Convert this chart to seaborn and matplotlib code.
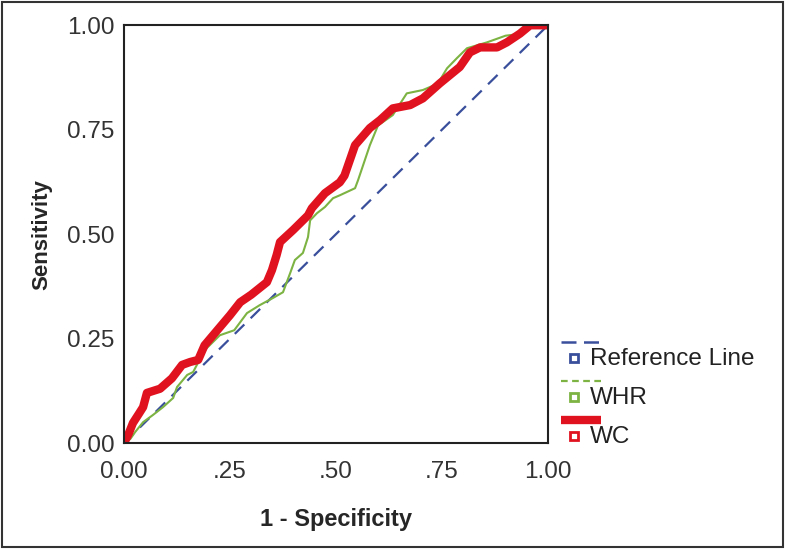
import pandas as pd
import seaborn as sns
import matplotlib.pyplot as plt
from matplotlib.lines import Line2D
from matplotlib.patches import Rectangle

# ROC curve points
wc_fpr = [0, 0.01, 0.021, 0.035, 0.045, 0.054, 0.085, 0.113, 0.137, 0.156, 0.175, 0.19, 0.22, 0.25,
          0.274, 0.30, 0.337, 0.349, 0.36, 0.368, 0.399, 0.434, 0.443, 0.474, 0.509, 0.52, 0.545,
          0.58, 0.604, 0.634, 0.675, 0.705, 0.745, 0.792, 0.816, 0.84, 0.88, 0.903, 0.934, 0.958, 1.0]
wc_tpr = [0, 0.02, 0.048, 0.07, 0.086, 0.12, 0.13, 0.155, 0.187, 0.194, 0.199, 0.234, 0.27, 0.306,
          0.337, 0.355, 0.385, 0.414, 0.45, 0.481, 0.51, 0.545, 0.562, 0.598, 0.624, 0.64, 0.713,
          0.754, 0.773, 0.801, 0.809, 0.825, 0.861, 0.9, 0.935, 0.947, 0.947, 0.959, 0.98, 1.0, 1.0]

whr_fpr = [0, 0.015, 0.026, 0.045, 0.068, 0.092, 0.116, 0.125, 0.149, 0.163, 0.19, 0.226, 0.26, 0.29,
           0.32, 0.351, 0.375, 0.392, 0.403, 0.422, 0.434, 0.439, 0.455, 0.474, 0.493, 0.509, 0.545,
           0.552, 0.568, 0.58, 0.599, 0.634, 0.667, 0.705, 0.74, 0.762, 0.785, 0.809, 0.856, 0.90,
           0.94, 0.96, 1.0]
whr_tpr = [0, 0.01, 0.026, 0.05, 0.067, 0.086, 0.108, 0.134, 0.163, 0.17, 0.222, 0.258, 0.27, 0.311,
           0.33, 0.347, 0.361, 0.407, 0.438, 0.455, 0.493, 0.533, 0.55, 0.565, 0.586, 0.593, 0.61,
           0.629, 0.677, 0.713, 0.76, 0.785, 0.837, 0.845, 0.86, 0.897, 0.921, 0.945, 0.959, 0.975,
           0.98, 1.0, 1.0]

ref_x = [0, 1]
ref_y = [0, 1]

x_ticks = [0, 0.25, 0.5, 0.75, 1.0]
x_ticklabels = ["0.00", ".25", ".50", ".75", "1.00"]
y_ticklabels = ["0.00", "0.25", "0.50", "0.75", "1.00"]

legend_labels = ["Reference Line", "WHR", "WC"]

blue = "#3a4f9c"
green = "#7cb342"
red = "#e0121f"

sns.set_style("white")
plt.rcParams['font.family'] = ['Liberation Sans', 'DejaVu Sans']

fig = plt.figure(figsize=(7.85, 5.49), dpi=100)
ax = fig.add_axes([0.158, 0.193, 0.540, 0.761])

wc = pd.DataFrame({"fpr": wc_fpr, "tpr": wc_tpr})
whr = pd.DataFrame({"fpr": whr_fpr, "tpr": whr_tpr})

ax.plot(ref_x, ref_y, color=blue, lw=1.6, dashes=(6, 4))
sns.lineplot(data=whr, x="fpr", y="tpr", sort=False, estimator=None, color=green, lw=1.5, ax=ax)
sns.lineplot(data=wc, x="fpr", y="tpr", sort=False, estimator=None, color=red, lw=6, ax=ax)

ax.set_xlim(0, 1)
ax.set_ylim(0, 1)
ax.set_xticks(x_ticks)
ax.set_xticklabels(x_ticklabels)
ax.set_yticks(x_ticks)
ax.set_yticklabels(y_ticklabels)
ax.tick_params(axis="both", labelsize=17.5, length=4, width=1, direction="out",
               labelcolor="#333333", color="black", pad=3)
ax.tick_params(axis="x", pad=9)
for s in ax.spines.values():
    s.set_color("#222222")
    s.set_linewidth(1.5)
ax.set_xlabel("1 - Specificity", fontsize=17, fontweight="bold", labelpad=18)
ax.set_ylabel("Sensitivity", fontsize=16, fontweight="bold", labelpad=10)

# legend drawn by hand: line sample above, small square + label below
styles = [dict(color=blue, lw=1.8, dashes=(6, 3)),
          dict(color=green, lw=1.6, dashes=(3, 2)),
          dict(color=red, lw=6, solid_capstyle="butt")]
W, H = 785, 549
rows = [342, 381, 420]
for lab, st, r in zip(legend_labels, styles, rows):
    fig.add_artist(Line2D([561 / W, 601 / W], [1 - r / H, 1 - r / H], **st))
    fig.add_artist(Line2D([574 / W], [1 - (r + 16) / H], marker="s", markersize=6,
                          markerfacecolor="white", markeredgecolor=st["color"], markeredgewidth=2,
                          linestyle="none"))
    fig.text(590 / W, 1 - (r + 17) / H, lab, fontsize=17.5, color="#222222", va="center", ha="left")

fig.add_artist(Rectangle((0.002, 0.003), 0.996, 0.994, transform=fig.transFigure,
                         fill=False, edgecolor="#333333", lw=1.5))

plt.savefig("out.png", dpi=100)
